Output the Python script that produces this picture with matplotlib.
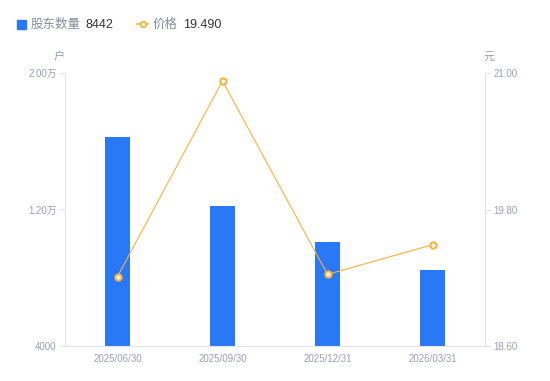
import matplotlib
matplotlib.use("Agg")
import matplotlib.pyplot as plt

plt.rcParams['font.family'] = ['Liberation Sans', 'Noto Sans CJK SC', 'DejaVu Sans']

dates = ['2025/06/30', '2025/09/30', '2025/12/31', '2026/03/31']
holders = [16250, 12200, 10100, 8442]
prices = [19.21, 20.93, 19.23, 19.49]

bar_color = '#2979f6'
line_color = '#f9b13a'
tick_color = '#9a9eab'
axis_color = '#e3e4e8'

fig = plt.figure(figsize=(5.5, 3.81), dpi=100)
ax = fig.add_axes([65 / 550, 35 / 381, 420 / 550, 273 / 381])
ax2 = ax.twinx()

x = list(range(len(dates)))
ax.bar(x, holders, width=0.24, color=bar_color, zorder=2)
ax.set_xlim(-0.5, len(dates) - 0.5)
ax.set_ylim(4000, 20000)
ax.set_yticks([4000, 12000, 20000])
ax.set_yticklabels(['4000', '1.20万', '2.00万'])
ax.set_xticks(x)
ax.set_xticklabels(dates)

ax2.plot(x, prices, color=line_color, lw=0.8, marker='o', ms=4.5,
         mfc='white', mec=line_color, mew=1.5, zorder=3)
ax2.set_ylim(18.6, 21.0)
ax2.set_yticks([18.6, 19.8, 21.0])
ax2.set_yticklabels(['18.60', '19.80', '21.00'])

for a in (ax, ax2):
    for s in a.spines.values():
        s.set_visible(False)
    a.tick_params(colors=tick_color, labelsize=7, length=4, width=0.8)
    a.tick_params(axis='y', color=axis_color)
ax.spines['left'].set_visible(True)
ax.spines['left'].set_color(axis_color)
ax.spines['bottom'].set_visible(True)
ax.spines['bottom'].set_color(axis_color)
ax2.spines['right'].set_visible(True)
ax2.spines['right'].set_color(axis_color)
ax.tick_params(axis='x', length=0, pad=6)
ax.tick_params(axis='y', pad=2)
ax2.tick_params(axis='y', pad=2)

fig.text(59 / 550, 1 - 57 / 381, '户', fontsize=8, color=tick_color, ha='center', va='center')
fig.text(489 / 550, 1 - 57 / 381, '元', fontsize=8, color=tick_color, ha='center', va='center')

# legend
ly = 1 - 25 / 381
fig.patches.append(plt.Rectangle((17 / 550, 1 - 28.5 / 381), 8.5 / 550, 8.5 / 381,
                                 transform=fig.transFigure, color=bar_color))
fig.text(31 / 550, ly, '股东数量', fontsize=9, color='#888c99', va='center')
fig.text(85 / 550, ly, '8442', fontsize=9, color='#333333', va='center')
fig.lines.append(plt.Line2D([137 / 550, 148 / 550], [1 - 24 / 381] * 2, transform=fig.transFigure,
                            color=line_color, lw=1.2))
fig.lines.append(plt.Line2D([142.5 / 550], [1 - 24 / 381], transform=fig.transFigure, color=line_color,
                            marker='o', ms=4, mfc='white', mec=line_color, mew=1.3))
fig.text(153 / 550, ly, '价格', fontsize=9, color='#888c99', va='center')
fig.text(183 / 550, ly, '19.490', fontsize=9, color='#333333', va='center')

fig.savefig('out.png', dpi=100, facecolor='white')
